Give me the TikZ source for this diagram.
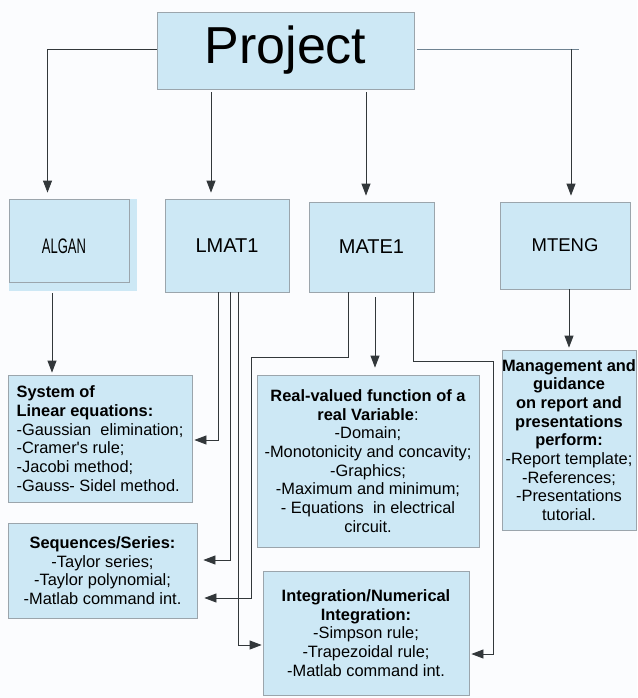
\documentclass[tikz,border=0pt]{standalone}
\usepackage{fontspec}
\setmainfont{Liberation Sans}
\newfontfamily\plainf{Liberation Sans}
\usetikzlibrary{arrows.meta,calc}
\definecolor{boxfill}{RGB}{205,232,245}
\definecolor{boxline}{RGB}{155,165,172}
\definecolor{bgcol}{RGB}{251,252,254}
\definecolor{conn}{RGB}{50,55,58}
\definecolor{lightconn}{RGB}{110,130,145}
\begin{document}
\begin{tikzpicture}[x=1pt,y=-1pt,
  box/.style={draw=boxline, fill=boxfill, line width=0.8pt, inner sep=0pt, align=center},
  arr/.style={draw=conn, line width=0.8pt, -{Triangle[length=12pt,width=9pt]}},
  ln/.style={draw=conn, line width=0.8pt},
  body/.style={font=\fontsize{16.4}{18.7}\selectfont}]
\fill[bgcol] (0,0) rectangle (637,698);
\useasboundingbox (0,0) rectangle (637,698);

% top node
\node[box, minimum width=257pt, minimum height=77pt, font=\fontsize{52}{52}\selectfont] (proj) at (285.5,50.5) {Project};

% ALGAN with its extended fill
\fill[boxfill] (9,199) rectangle (137,291);
\node[box, minimum width=120pt, minimum height=83pt] (algan) at (69,240.5) {\hspace*{-10pt}\raisebox{-13pt}[0pt][0pt]{\scalebox{0.62}[1]{\fontsize{21}{21}\selectfont ALGAN}}};
\node[box, minimum width=124pt, minimum height=93pt, font=\fontsize{20}{20}\selectfont] (lmat) at (227,245.5) {LMAT1};
\node[box, minimum width=125pt, minimum height=90pt, font=\fontsize{20}{20}\selectfont] (mate) at (371.5,247) {MATE1};
\node[box, minimum width=130pt, minimum height=87pt, font=\fontsize{18.5}{18.5}\selectfont] (mteng) at (565,245.5) {MTENG};

% content boxes
\node[box, body, align=left, minimum width=184pt, minimum height=127pt] (sys) at (100,438.5)
 {\textbf{System of}\\ \textbf{Linear equations:}\\ -Gaussian\ \ elimination;\\ -Cramer{\plainf '}s rule;\\ -Jacobi method;\\ -Gauss- Sidel method.};
\node[box, body, minimum width=189pt, minimum height=95pt] (seq) at (102.5,570.5)
 {\textbf{Sequences/Series:}\\ -Taylor series;\\ -Taylor polynomial;\\ -Matlab command int.};
\node[box, body, minimum width=222pt, minimum height=172pt] (real) at (368,461)
 {\textbf{Real-valued function of a}\\ \textbf{real Variable}:\\ -Domain;\\ -Monotonicity and concavity;\\ -Graphics;\\ -Maximum and minimum;\\ - Equations\ \ in electrical\\ circuit.};
\node[box, body, minimum width=206pt, minimum height=124pt] (integ) at (366,633)
 {\textbf{Integration/Numerical}\\ \textbf{Integration:}\\ -Simpson rule;\\ -Trapezoidal rule;\\ -Matlab command int.};
\node[box, body, minimum width=134pt, minimum height=180pt] (mgmt) at (569,440)
 {\textbf{Management and}\\ \textbf{guidance}\\ \textbf{on report and}\\ \textbf{presentations}\\ \textbf{perform:}\\ -Report template;\\ -References;\\ -Presentations\\ tutorial.};

% connectors from Project
\draw[arr] ([yshift=1.5]proj.west) -| ([xshift=-21.5,yshift=6]algan.north);
\draw[arr] ([xshift=-74.5,yshift=-3]proj.south) -- ([xshift=-16,yshift=6]lmat.north);
\draw[arr] ([xshift=80.5,yshift=-3]proj.south) -- ([xshift=-5.5,yshift=6]mate.north);
\coordinate (rj) at (571,49);
\coordinate (rend) at (579,49);
\draw[line width=0.8pt, draw=lightconn] ([xshift=3,yshift=1.5]proj.east) -- (rend);
\draw[arr] (rj) -- ([xshift=6,yshift=6]mteng.north);

% ALGAN to System
\draw[arr] ([xshift=-17,yshift=-11]algan.south) -- ([xshift=-48,yshift=2]sys.north);

% LMAT1 connectors
\draw[arr] ([xshift=-9]lmat.south) |- ([xshift=2,yshift=-1.5]sys.east);
\draw[arr] ([xshift=3]lmat.south) |- ([xshift=6,yshift=10.5]seq.east);
\draw[arr] ([xshift=11]lmat.south) |- ([xshift=-1,yshift=-12]integ.west);

% MATE1 connectors
\coordinate (m1) at (251,357);
\coordinate (m2) at (493,361);
\draw[arr] ([xshift=-23.5]mate.south) |- (m1) |- ([xshift=7,yshift=-27.5]seq.east);
\draw[arr] ([xshift=3.5,yshift=-5]mate.south) -- ([xshift=7,yshift=7]real.north);
\draw[arr] ([xshift=41.5]mate.south) |- (m2) |- ([xshift=2,yshift=-21]integ.east);

% MTENG to Management
\draw[arr] ([xshift=4]mteng.south) -- ([yshift=2]mgmt.north);
\end{tikzpicture}
\end{document}
